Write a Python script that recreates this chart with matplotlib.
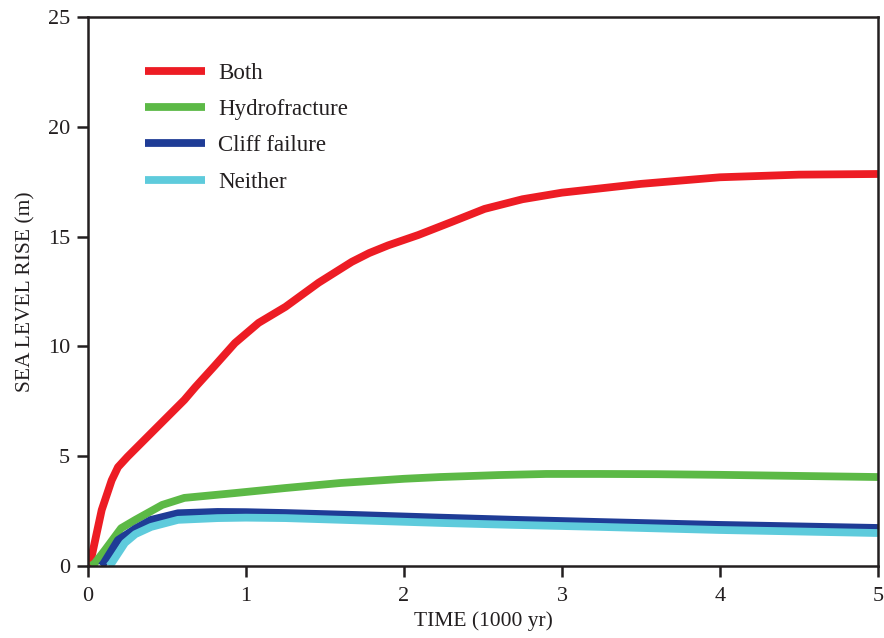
import matplotlib
matplotlib.use("Agg")
import matplotlib.pyplot as plt

# data (time in 1000 yr, sea level rise in m)
both_t = [0.0, 0.023, 0.087, 0.15, 0.19, 0.25, 0.4, 0.61, 0.68, 0.8, 0.93, 1.08, 1.25, 1.46, 1.67,
          1.78, 1.9, 2.09, 2.3, 2.51, 2.75, 3.0, 3.5, 4.0, 4.5, 5.0]
both_y = [0.0, 0.42, 2.55, 3.9, 4.5, 4.97, 6.05, 7.56, 8.15, 9.1, 10.15, 11.07, 11.8, 12.9, 13.85,
          14.25, 14.6, 15.07, 15.66, 16.26, 16.7, 17.0, 17.4, 17.7, 17.82, 17.85]

hydro_t = [0.02, 0.044, 0.108, 0.21, 0.3, 0.47, 0.61, 0.93, 1.25, 1.6, 2.0, 2.23, 2.6, 2.9, 3.24,
           3.6, 4.0, 4.5, 5.0]
hydro_y = [0.0, 0.13, 0.73, 1.72, 2.1, 2.78, 3.1, 3.32, 3.55, 3.78, 3.97, 4.05, 4.14, 4.19, 4.19,
           4.18, 4.15, 4.1, 4.05]

cliff_t = [0.085, 0.1, 0.19, 0.3, 0.4, 0.57, 0.82, 1.0, 1.25, 1.7, 2.23, 2.7, 3.24, 3.99, 4.5, 5.0]
cliff_y = [0.0, 0.13, 1.18, 1.7, 2.1, 2.4, 2.46, 2.45, 2.41, 2.32, 2.2, 2.1, 2.0, 1.87, 1.8, 1.73]

neither_t = [0.135, 0.15, 0.234, 0.3, 0.4, 0.57, 0.82, 1.0, 1.25, 1.7, 2.23, 2.7, 3.24, 3.99, 4.5, 5.0]
neither_y = [0.0, 0.13, 1.05, 1.45, 1.78, 2.1, 2.18, 2.2, 2.18, 2.08, 1.96, 1.87, 1.78, 1.64, 1.57, 1.5]

labels = ["Both", "Hydrofracture", "Cliff failure", "Neither"]
colors = ["#ed1c24", "#5cb946", "#1f3c96", "#5ecbdc"]

ink = "#231f20"
plt.rcParams["font.family"] = ["Liberation Serif", "DejaVu Serif"]
plt.rcParams["text.color"] = ink

fig = plt.figure(figsize=(8.84, 6.38), dpi=100)
ax = fig.add_axes([0.0995, 0.1129, 0.8937, 0.8605])

series = [(both_t, both_y), (hydro_t, hydro_y), (cliff_t, cliff_y), (neither_t, neither_y)]
for (t, y), lab, c in zip(series, labels, colors):
    ax.plot(t, y, color=c, lw=5.6, label=lab, solid_capstyle="butt", solid_joinstyle="round")

ax.set_xlim(0, 5)
ax.set_ylim(0, 25)
ax.set_xticks(range(0, 6))
ax.set_yticks(range(0, 26, 5))

for s in ax.spines.values():
    s.set_color(ink)
    s.set_linewidth(1.8)
ax.tick_params(direction="out", length=8, width=1.8, color=ink, labelcolor=ink,
               labelsize=16, pad=7)
ax.tick_params(axis="y", pad=5)

ax.set_xlabel("TIME (1000 yr)", fontsize=15.5, labelpad=4, color=ink)
ax.set_ylabel("SEA LEVEL RISE (m)", fontsize=15.5, labelpad=9, color=ink)

ax.legend(loc="upper left", bbox_to_anchor=(0.072, 0.917), frameon=False, fontsize=16.5,
          handlelength=2.62, handletextpad=0.57, labelspacing=0.67, borderpad=0,
          borderaxespad=0)

fig.savefig("out.png", dpi=100)
